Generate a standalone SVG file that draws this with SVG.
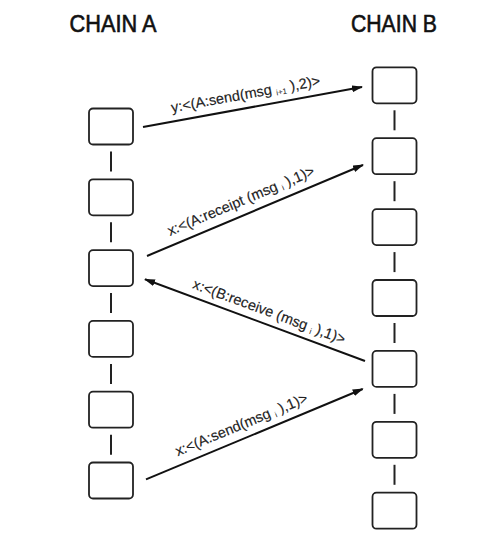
<svg xmlns="http://www.w3.org/2000/svg" width="490" height="544" viewBox="0 0 490 544">
<style>
.box{fill:#fff;stroke:#222;stroke-width:1.8}
.link{stroke:#222;stroke-width:2}
.arrow{stroke:#111;stroke-width:2;fill:none;marker-end:url(#ah)}
.title{font-family:"Liberation Sans",Arial,sans-serif;font-size:23px;fill:#111;stroke:#111;stroke-width:0.6}
.lbl{font-family:"Liberation Sans",Arial,sans-serif;font-size:14.5px;fill:#222;stroke:#222;stroke-width:0.15;text-anchor:middle}
.sub{font-size:8px;stroke-width:0}
</style>
<defs>
<marker id="ah" markerUnits="userSpaceOnUse" markerWidth="11" markerHeight="8" refX="10" refY="3.5" orient="auto">
<path d="M0,0 L11,3.5 L0,7 z" fill="#111"/>
</marker>
</defs>
<rect width="490" height="544" fill="#fff"/>
<text class="title" x="113" y="32.3" text-anchor="middle" textLength="87" lengthAdjust="spacingAndGlyphs">CHAIN A</text>
<text class="title" x="394" y="32.3" text-anchor="middle" textLength="86" lengthAdjust="spacingAndGlyphs">CHAIN B</text>
<g id="chainA">
<g id="a1"><rect class="box" x="89" y="108.5" width="44" height="36" rx="4"/></g>
<g id="a2"><rect class="box" x="89" y="179.3" width="44" height="36" rx="4"/></g>
<g id="a3"><rect class="box" x="89" y="250.1" width="44" height="36" rx="4"/></g>
<g id="a4"><rect class="box" x="89" y="320.9" width="44" height="36" rx="4"/></g>
<g id="a5"><rect class="box" x="89" y="391.7" width="44" height="36" rx="4"/></g>
<g id="a6"><rect class="box" x="89" y="462.5" width="44" height="36" rx="4"/></g>
</g>
<g id="chainB">
<g id="b1"><rect class="box" x="372.5" y="67.3" width="44" height="36" rx="4"/></g>
<g id="b2"><rect class="box" x="372.5" y="138.2" width="44" height="36" rx="4"/></g>
<g id="b3"><rect class="box" x="372.5" y="209.1" width="44" height="36" rx="4"/></g>
<g id="b4"><rect class="box" x="372.5" y="280" width="44" height="36" rx="4"/></g>
<g id="b5"><rect class="box" x="372.5" y="350.9" width="44" height="36" rx="4"/></g>
<g id="b6"><rect class="box" x="372.5" y="421.8" width="44" height="36" rx="4"/></g>
<g id="b7"><rect class="box" x="372.5" y="492.7" width="44" height="36" rx="4"/></g>
</g>
<g id="connectors">
<line class="link" x1="111" y1="151.5" x2="111" y2="171.5"/>
<line class="link" x1="111" y1="222.3" x2="111" y2="242.3"/>
<line class="link" x1="111" y1="293.1" x2="111" y2="313.1"/>
<line class="link" x1="111" y1="363.9" x2="111" y2="383.9"/>
<line class="link" x1="111" y1="434.7" x2="111" y2="454.7"/>
<line class="link" x1="394.5" y1="110.3" x2="394.5" y2="130.3"/>
<line class="link" x1="394.5" y1="181.2" x2="394.5" y2="201.2"/>
<line class="link" x1="394.5" y1="252.1" x2="394.5" y2="272.1"/>
<line class="link" x1="394.5" y1="323" x2="394.5" y2="343"/>
<line class="link" x1="394.5" y1="393.9" x2="394.5" y2="413.9"/>
<line class="link" x1="394.5" y1="464.8" x2="394.5" y2="484.8"/>
<line class="arrow" x1="143" y1="127" x2="362" y2="87"/>
<line class="arrow" x1="147" y1="256" x2="363" y2="165"/>
<line class="arrow" x1="365" y1="361" x2="145" y2="279.3"/>
<line class="arrow" x1="146" y1="479.3" x2="362.7" y2="389"/>
<text class="lbl" transform="translate(246.4 98.9) rotate(-10.35)">y:&lt;(A:send(msg <tspan class="sub" dy="2">i+1</tspan><tspan dy="-2"> ),2)&gt;</tspan></text>
<text class="lbl" transform="translate(242.8 205.3) rotate(-22.8)">x:&lt;(A:receipt (msg <tspan class="sub" dy="2">i</tspan><tspan dy="-2"> ),1)&gt;</tspan></text>
<text class="lbl" transform="translate(267.5 316.1) rotate(20.3)">x:&lt;(B:receive (msg <tspan class="sub" dy="2">i</tspan><tspan dy="-2"> ),1)&gt;</tspan></text>
<text class="lbl" transform="translate(243.2 429) rotate(-22.6)">x:&lt;(A:send(msg <tspan class="sub" dy="2">i</tspan><tspan dy="-2"> ),1)&gt;</tspan></text>
</g>
</svg>
